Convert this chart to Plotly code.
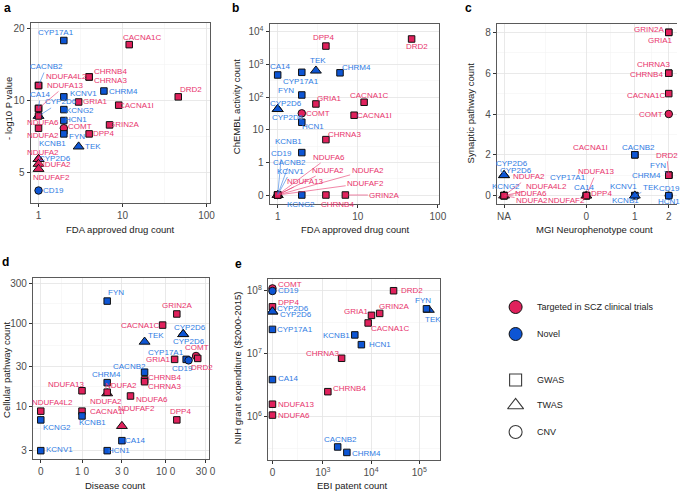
import math
import plotly.graph_objects as go

W, H = 685, 492

# ---------------- data ----------------
# group: T = targeted in SCZ clinical trials, N = novel ; kind: G = GWAS, T = TWAS, C = CNV
# panel a : FDA approved drug count vs -log10 P
a_gene = ["CACNB2", "CA14", "CYP2D6", "KCNB1", "CYP2D6", "CYP17A1", "CACNA1C", "NDUFA4L2", "CHRNB4", "CHRNA3",
          "NDUFA13", "KCNV1", "CHRM4", "DRD2", "GRIA1", "CACNA1I", "KCNG2", "NDUFA6", "HCN1", "COMT",
          "GRIN2A", "NDUFA2", "FYN", "DPP4", "TEK", "NDUFA2", "NDUFA2", "NDUFAF2", "CD19"]
a_group = ["N", "N", "N", "N", "N", "N", "T", "T", "T", "T",
           "T", "N", "N", "T", "T", "T", "N", "T", "N", "T",
           "T", "T", "N", "T", "N", "T", "T", "T", "N"]
a_kind = ["G", "G", "T", "G", "T", "G", "G", "G", "G", "G",
          "G", "G", "G", "G", "G", "G", "G", "G", "G", "C",
          "G", "G", "G", "G", "T", "T", "T", "T", "C"]
a_fda = [1, 1, 1, 2, 1, 2, 12, 1, 4, 4, 1, 2, 6, 46, 3, 9, 2, 1, 2, 2, 7, 1, 2, 4, 3, 1, 1, 1, 1]
a_logp = [11.6, 9.3, 8.65, 7.5, 5.71, 17.9, 17.2, 11.6, 12.6, 12.6, 9.3, 10.4, 11.0, 10.4, 9.9,
          9.6, 9.2, 8.65, 8.28, 7.69, 7.94, 7.69, 7.28, 7.28, 6.44, 5.71, 5.45, 5.19, 4.22]

# panel b : FDA approved drug count vs ChEMBL activity count
b_gene = ["CD19", "CACNB2", "KCNV1", "NDUFA2", "NDUFAF2", "NDUFA6", "NDUFA2", "NDUFA13", "DPP4", "DRD2",
          "CA14", "TEK", "CHRM4", "CYP17A1", "FYN", "GRIA1", "CACNA1C", "CYP2D6", "CYP2D6", "COMT",
          "CACNA1I", "HCN1", "CHRNA3", "KCNB1", "KCNG2", "CHRNB4", "GRIN2A"]
b_group = ["N", "N", "N", "T", "T", "T", "T", "T", "T", "T",
           "N", "N", "N", "N", "N", "T", "T", "N", "N", "T",
           "T", "N", "T", "N", "N", "T", "T"]
b_kind = ["C", "G", "G", "T", "T", "G", "G", "G", "G", "G",
          "G", "T", "G", "G", "G", "G", "G", "T", "T", "C",
          "G", "G", "G", "G", "G", "G", "G"]
b_fda = [1, 1, 1, 1, 1, 1, 1, 1, 4, 47, 1, 3, 6, 2, 2, 3, 12, 1, 1, 2, 9, 2, 4, 2, 2, 4, 7]
b_chembl = [0, 0, 0, 0, 0, 0, 0, 0, 3700, 6100, 480, 650, 560, 580, 117, 62, 70, 43, 43, 32,
            28, 17, 5, 2, 0, 0, 0]

# panel c : MGI neurophenotype count vs synaptic pathway count
c_gene = ["CACNA1I", "FYN", "CHRM4", "KCNG2", "GRIN2A", "GRIA1", "CHRNA3", "CHRNB4", "CACNA1C", "COMT",
          "CACNB2", "DRD2", "CD19", "HCN1", "KCNV1", "KCNB1", "TEK", "CYP17A1", "CA14", "NDUFAF2",
          "NDUFA13", "DPP4", "CYP2D6", "CYP2D6", "NDUFA2", "NDUFA2", "NDUFA4L2", "NDUFA6"]
c_group = ["T", "N", "N", "N", "T", "T", "T", "T", "T", "T",
           "N", "T", "N", "N", "N", "N", "N", "N", "N", "T",
           "T", "T", "N", "N", "T", "T", "T", "T"]
c_kind = ["G", "G", "G", "G", "G", "G", "G", "G", "G", "C",
          "G", "G", "C", "G", "G", "G", "T", "G", "G", "T",
          "G", "G", "T", "T", "T", "G", "G", "G"]
c_mgi = ["1", "2", "2", "NA", "2", "2", "2", "2", "2", "2",
         "1", "2", "2", "2", "1", "1", "1", "0", "0", "0",
         "0", "0", "NA", "NA", "NA", "NA", "NA", "NA"]
c_syn = [2, 1, 1, 0, 8, 8, 6, 6, 5, 4, 2, 1, 0, 0, 0, 0, 0, 0, 0, 0, 0, 0, 1, 1, 0, 0, 0, 0]
c_ticks = ["NA", "0", "1", "2"]

# panel d : disease count vs cellular pathway count
d_gene = ["FYN", "GRIN2A", "CACNA1C", "CYP2D6", "CYP2D6", "TEK", "GRIA1", "CYP17A1", "CD19", "COMT",
          "DRD2", "CACNB2", "CHRNB4", "CHRNA3", "CHRM4", "NDUFA13", "NDUFA2", "NDUFA2", "NDUFA6", "NDUFA4L2",
          "CACNA1I", "KCNB1", "KCNG2", "NDUFAF2", "DPP4", "CA14", "KCNV1", "HCN1"]
d_group = ["N", "T", "T", "N", "N", "N", "T", "N", "N", "T",
           "T", "N", "T", "T", "N", "T", "T", "T", "T", "T",
           "T", "N", "N", "T", "T", "N", "N", "N"]
d_kind = ["G", "G", "G", "T", "T", "T", "G", "G", "C", "C",
          "G", "G", "G", "G", "G", "G", "T", "G", "G", "G",
          "G", "G", "G", "T", "G", "G", "G", "G"]
d_disease = [20, 136, 92, 162, 162, 56, 128, 176, 188, 231, 242, 56, 56, 56, 20, 10, 20, 20, 38, 0,
             10, 10, 0, 30, 136, 30, 0, 20]
d_cell = [184, 129, 95, 74, 74, 60, 37, 37, 36, 40.6, 38, 26, 21, 20, 19.5, 15.6, 14.5, 15, 13.5, 8.9,
          8.9, 7.8, 7.0, 5.9, 7.0, 3.95, 3.0, 3.0]
d_tickvals = [0, 10, 30, 100, 300]
d_ticktext = ["0", "1 0", "3 0", "10 0", "30 0"]

# panel e : EBI patent count vs NIH grant expenditure
e_gene = ["COMT", "CD19", "DPP4", "CYP2D6", "CYP2D6", "CYP17A1", "CA14", "NDUFA13", "NDUFA6", "DRD2",
          "TEK", "FYN", "GRIN2A", "GRIA1", "CACNA1C", "KCNB1", "HCN1", "CHRNA3", "CHRNB4", "CACNB2", "CHRM4"]
e_group = ["T", "N", "T", "N", "N", "N", "N", "T", "T", "T",
           "N", "N", "T", "T", "T", "N", "N", "T", "T", "N", "N"]
e_kind = ["C", "C", "G", "T", "T", "G", "G", "G", "G", "G",
          "T", "G", "G", "G", "G", "G", "G", "G", "G", "G", "G"]
e_patent = [0, 0, 0, 0, 0, 0, 0, 0, 0, 29300, 158000, 141000, 15100, 10200, 8700, 4600, 6300, 2450, 1270, 2030, 3150]
e_grant = [1.1e8, 1.0e8, 5.6e7, 4.7e7, 4.7e7, 2.45e7, 3.9e6, 1.58e6, 1.06e6, 1.01e8,
           5.0e7, 5.2e7, 4.4e7, 4.1e7, 3.1e7, 2.0e7, 1.4e7, 8.5e6, 2.5e6, 3.3e5, 2.7e5]

legend_colour_labels = ["Targeted in SCZ clinical trials", "Novel"]
legend_shape_labels = ["GWAS", "TWAS", "CNV"]

# ---------------- label placement (pixel offsets of gene labels, layout only) ----------------
a_lab = [(8, -19, 1), (2, -14, 1), (22, -14, 1), (-11, 13, 0), (16, -1, 0), (-8, -8, 0), (13, -7, 0), (28, -9, 0),
         (21, -5, 0), (21, 3.5, 0), (27, -23, 1), (20, -3, 0), (20, 0, 0), (13, -7, 0), (17, 0, 0), (18, 0, 0),
         (16, 1, 0), (4, 7, 0), (12, -1.5, 0), (16, -1.5, 0), (14, 0, 0), (4, 7, 0), (13, 3, 0), (14, 0, 0),
         (14, 0, 0), (4, -6.5, 0), (16, 1, 0), (13, 8, 0), (15, 0, 0)]
b_lab = [(4, -42, 1), (12, -33, 1), (13, -24, 1), (90, -25, 1), (88, -12, 1), (51, -38, 1), (50, -25, 1),
         (28, -14, 1), (-2, -9, 0), (5, 8, 0), (3, -8, 0), (2, -10, 0), (16, -5, 0), (-1, 9, 0), (-16, -4, 0),
         (14, -5, 0), (5, -7, 0), (8, -6, 0), (10, 8, 0), (16, 0, 0), (20, 0, 0), (11, 4, 0), (19, -5, 0),
         (-13, -11, 0), (-1, 9, 0), (12, 9, 0), (39, 0, 1)]
c_lab = [(-44, -7, 0), (-11, -10, 1), (-22, 0, 0), (2, -9, 0), (-20, -3, 0), (-8, 8, 0), (-15, -9, 0), (-22, 1, 0),
         (-23, 2, 0), (-18, 0, 0), (4, -7, 0), (-2, -20, 1), (1, -7.5, 0), (0, 6, 0), (-11, -9, 0), (-9, 5, 0),
         (16, -8, 1), (-18, -18, 0), (-2, -8, 0), (-20, 5, 0), (10, -24, 1), (15, -2, 0), (8, -12, 0),
         (12, -5, 0), (28, 5, 1), (25, -19, 1), (42, -9, 1), (27, -2, 1)]
d_lab = [(9, -9, 0), (0, -8.5, 0), (-23, 0, 0), (7, -7, 0), (6, 7, 0), (11, -6, 0), (-16, 0, 0), (-20, -7, 0),
         (-6, 8, 0), (1, -8, 0), (4, 9, 0), (-15, -6, 0), (20, -2, 0), (20, 5, 0), (-1, -8, 0), (-16, -6, 0),
         (-1, 8.5, 0), (14, -7, 0), (21, 3, 0), (12, -9, 0), (25, 0, 0), (10, 7, 0), (16, 8, 0), (15, -18, 0),
         (4, -8, 0), (14, 0, 0), (19, -1, 0), (12, 0, 0)]
e_lab = [(18, -4, 0), (16, 0, 0), (16, -4, 0), (21, -3, 0), (24, 3, 0), (23, 0, 0), (16, -1, 0), (24, 0, 0),
         (22, 0, 0), (18, 0, 0), (4, 10, 0), (-3, -8, 0), (14, -7, 0), (-15, -4, 0), (22, 5.6, 0), (-18, 1, 0),
         (18.6, 0, 0), (-19, -5, 0), (21.6, -2.7, 0), (2.6, -7.4, 0), (20, 1, 0)]

# ---------------- styles ----------------
FONT = "Liberation Sans, Arial, sans-serif"
FILL = {"T": "#E0215C", "N": "#0D55D4"}
TEXT = {"T": "#E8346C", "N": "#2F7BE3"}
SYM = {"G": "square", "T": "triangle-up", "C": "circle"}
SIZE = {"G": 6.5, "T": 9.5, "C": 7.5}


def px_x(p):
    return p / W


def px_y(p):
    return 1 - p / H


fig = go.Figure()
annotations = []


# axis transforms
def b_ty(v):
    return v if v <= 1 else 1 + math.log10(v)


def d_tx(v):
    return 0.507 if v == 0 else math.log10(v)


def e_tx(v):
    return 1.955 if v == 0 else math.log10(v)


C_XPOS = {"NA": 0.0, "0": 2.5, "1": 3.97, "2": 5.0}


def c_tx(v):
    return C_XPOS[v]


def panel(xa, ya, genes, groups, kinds, xs, ys, labs, xlog=False, ylog=False, fx=None, fy=None):
    X = [fx(v) if fx else v for v in xs]
    Y = [fy(v) if fy else v for v in ys]
    fig.add_trace(go.Scatter(
        x=X, y=Y, mode="markers", xaxis=xa, yaxis=ya, hoverinfo="skip",
        marker=dict(symbol=[SYM[k] for k in kinds], size=[SIZE[k] for k in kinds], opacity=1,
                    color=[FILL[g] for g in groups], line=dict(color="#111111", width=1))))
    for g, grp, x, y, (dx, dy, ln) in zip(genes, groups, X, Y, labs):
        annotations.append(dict(
            x=math.log10(x) if xlog else x, y=math.log10(y) if ylog else y,
            xref=xa, yref=ya, text=g, showarrow=True, arrowhead=0, arrowwidth=0.6,
            arrowcolor=TEXT[grp] if ln else "rgba(0,0,0,0)", ax=dx, ay=dy,
            font=dict(size=8, color=TEXT[grp], family=FONT)))


panel("x", "y", a_gene, a_group, a_kind, a_fda, a_logp, a_lab, xlog=True, ylog=True)
panel("x2", "y2", b_gene, b_group, b_kind, b_fda, b_chembl, b_lab, xlog=True, fy=b_ty)
panel("x3", "y3", c_gene, c_group, c_kind, c_mgi, c_syn, c_lab, fx=c_tx)
panel("x4", "y4", d_gene, d_group, d_kind, d_disease, d_cell, d_lab, ylog=True, fx=d_tx)
panel("x5", "y5", e_gene, e_group, e_kind, e_patent, e_grant, e_lab, ylog=True, fx=e_tx)

# legend (hidden helper axis in pixel units)
leg_y = [307, 334, 380, 405.3, 432]
fig.add_trace(go.Scatter(
    x=[521.7] * 2, y=leg_y[:2], xaxis="x6", yaxis="y6", mode="markers", hoverinfo="skip",
    marker=dict(symbol="circle", size=13, opacity=1, color=[FILL["T"], FILL["N"]],
                line=dict(color="#111", width=1))))
fig.add_trace(go.Scatter(
    x=[521.7] * 3, y=leg_y[2:], xaxis="x6", yaxis="y6", mode="markers", hoverinfo="skip",
    marker=dict(symbol=["square-open", "triangle-up-open", "circle-open"], size=[12, 14, 13], opacity=1,
                color="#3a3a3a", line=dict(width=1.1))))
for t, yy in zip(legend_colour_labels + legend_shape_labels, leg_y):
    annotations.append(dict(x=541, y=yy, xref="x6", yref="y6", text=t, showarrow=False,
                            xanchor="left", yanchor="middle", font=dict(size=9, color="#222", family=FONT)))


def base_axis(dom, **kw):
    d = dict(domain=dom, showline=True, linecolor="#5a5a5a", linewidth=1, mirror=True,
             ticks="outside", ticklen=3, tickwidth=1, tickcolor="#333333",
             tickfont=dict(size=10, color="#4d4d4d", family=FONT),
             showgrid=True, gridcolor="#E4E4E4", gridwidth=0.8, zeroline=False, fixedrange=True)
    d.update(kw)
    return d


def minor(vals):
    return dict(tickvals=vals, showgrid=True, gridcolor="#F1F1F1", gridwidth=0.5, ticks="")


xa = base_axis([px_x(31), px_x(212)], type="log", range=[-0.094, 2.035], tickvals=[1, 10, 100],
               ticktext=["1", "10", "100"], minor=minor([10 ** 0.5, 10 ** 1.5]), anchor="y")
ya = base_axis([px_y(203), px_y(23)], type="log", range=[0.573, 1.326], tickvals=[5, 10, 20],
               ticktext=["5", "10", "20"], minor=minor([5 / math.sqrt(2), math.sqrt(50), math.sqrt(200)]), anchor="x")
xb = base_axis([px_x(272.7), px_x(444)], type="log", range=[-0.102, 2.012], tickvals=[1, 10, 100],
               ticktext=["1", "10", "100"], minor=minor([10 ** 0.5, 10 ** 1.5]), anchor="y2")
yb = base_axis([px_y(204), px_y(24)], range=[-0.276, 5.245], tickvals=[0, 1, 2, 3, 4, 5],
               ticktext=["0", "1", "10", "10<sup>2</sup>", "10<sup>3</sup>", "10<sup>4</sup>"],
               minor=minor([0.5, 1.5, 2.5, 3.5, 4.5]), anchor="x2")
xc = base_axis([px_x(502.7), 1.0], range=[-0.219, 5.25], tickvals=[C_XPOS[t] for t in c_ticks],
               ticktext=c_ticks, minor=minor([1.25, 3.235, 4.485]), anchor="y3")
yc = base_axis([px_y(204), px_y(24)], range=[-0.41, 8.41], tickvals=[0, 2, 4, 6, 8],
               minor=minor([1, 3, 5, 7]), anchor="x3", mirror=False)
xd = base_axis([px_x(33.3), px_x(211.7)], range=[0.413, 2.521], tickvals=[d_tx(v) for v in d_tickvals],
               ticktext=d_ticktext, minor=minor([0.7535, 1.2385, 1.7385, 2.2385]), anchor="y4")
yd = base_axis([px_y(459.3), px_y(278.3)], type="log", range=[0.374, 2.537], tickvals=[3, 10, 30, 100, 300],
               ticktext=["3", "10", "30", "100", "300"],
               minor=minor([math.sqrt(30), math.sqrt(300), math.sqrt(3000), math.sqrt(30000)]), anchor="x4")
xe = base_axis([px_x(271), px_x(445.7)], range=[1.859, 5.44], tickvals=[1.955, 3, 4, 5],
               ticktext=["0", "10<sup>3</sup>", "10<sup>4</sup>", "10<sup>5</sup>"],
               minor=minor([2.4775, 3.5, 4.5]), anchor="y5")
ye = base_axis([px_y(460), px_y(279.3)], type="log", range=[5.311, 8.186], tickvals=[1e6, 1e7, 1e8],
               ticktext=["10<sup>6</sup>", "10<sup>7</sup>", "10<sup>8</sup>"],
               minor=minor([10 ** 5.5, 10 ** 6.5, 10 ** 7.5]), anchor="x5")

# axis titles and panel letters
titles = [
    ("FDA approved drug count", 121.5, 229, 0), ("- log10 P value", 9, 108, -90),
    ("FDA approved drug count", 360, 229, 0), ("ChEMBL activity count", 239, 106, -90),
    ("MGI Neurophenotype count", 601.7, 229, 0), ("Synaptic pathway count", 476, 113, -90),
    ("Disease count", 116.7, 485, 0), ("Cellular pathway count", 6, 370, -90),
    ("EBI patent count", 356.7, 485, 0), ("NIH grant expenditure ($2000-2015)", 240, 368, -90),
]
for t, x, y, ang in titles:
    annotations.append(dict(x=px_x(x), y=px_y(y), xref="paper", yref="paper", text=t, showarrow=False,
                            xanchor="center", yanchor="middle", textangle=ang,
                            font=dict(size=9.5, color="#1a1a1a", family=FONT)))
for t, x, y in [("a", 8, 8), ("b", 238, 8), ("c", 474, 8), ("d", 6, 262), ("e", 241, 264)]:
    annotations.append(dict(x=px_x(x), y=px_y(y), xref="paper", yref="paper", text="<b>%s</b>" % t,
                            showarrow=False, xanchor="center", yanchor="middle",
                            font=dict(size=12, color="#000", family=FONT)))

fig.update_layout(
    width=W, height=H, margin=dict(l=0, r=0, t=0, b=0), showlegend=False,
    paper_bgcolor="white", plot_bgcolor="white", font=dict(family=FONT),
    xaxis=xa, yaxis=ya, xaxis2=xb, yaxis2=yb, xaxis3=xc, yaxis3=yc,
    xaxis4=xd, yaxis4=yd, xaxis5=xe, yaxis5=ye,
    xaxis6=dict(domain=[px_x(455), 1.0], range=[455, 685], visible=False, fixedrange=True, anchor="y6"),
    yaxis6=dict(domain=[0, px_y(290)], range=[492, 290], visible=False, fixedrange=True, anchor="x6"),
    annotations=annotations,
)

fig.write_html("out.html", config={"displayModeBar": False, "staticPlot": True},
               post_script="document.body.style.margin='0px';document.body.style.overflow='hidden';")
